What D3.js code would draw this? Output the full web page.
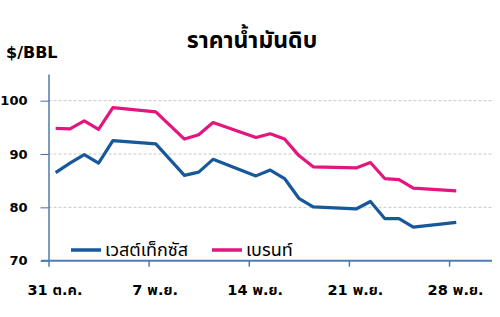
<!DOCTYPE html>
<html>
<head>
<meta charset="utf-8">
<script src="https://cdn.jsdelivr.net/npm/d3@7"></script>
<style>
  body { margin: 0; background: #fff; }
  text { font-family: Tahoma, "Noto Sans Thai", "Liberation Sans", Arial, sans-serif; }
</style>
</head>
<body>
<div id="vis"></div>
<script>
// chart size
var width = 500
var height = 317

// days counted from 31 Oct (trading days only)
var days = [0,1,2,3,4,7,9,10,11,14,15,16,17,18,21,22,23,24,25,28]
var wti = [86.5,88.3,89.9,88.3,92.5,91.9,86.0,86.6,89.0,85.9,87.0,85.4,81.7,80.1,79.7,81.1,77.9,77.9,76.3,77.2]
var brent = [94.8,94.7,96.2,94.6,98.7,97.9,92.8,93.6,95.9,93.1,93.8,92.8,89.7,87.6,87.4,88.4,85.4,85.2,83.6,83.1]

var xTickDays = [0,7,14,21,28]
var xTickLabels = ["31 ต.ค.","7 พ.ย.","14 พ.ย.","21 พ.ย.","28 พ.ย."]
var yTicks = [70,80,90,100]

var seriesNames = ["เวสต์เท็กซัส","เบรนท์"]
var seriesColors = ["#17589a","#e3157f"]

var numFont = '"DejaVu Sans", Tahoma, "Noto Sans Thai", sans-serif'

var svg = d3.select('#vis').append('svg')
  .attr('width', width)
  .attr('height', height)

// scales
var x = d3.scaleLinear().domain([0,31]).range([48.5,492])
var y = d3.scaleLinear().domain([70,105]).range([260.7,74])

// gridlines
svg.selectAll('line.grid')
  .data(yTicks.slice(1))
  .enter()
  .append('line')
  .attr('class','grid')
  .attr('x1', x(0))
  .attr('x2', x(31))
  .attr('y1', d => y(d))
  .attr('y2', d => y(d))
  .attr('stroke','#c8c8c8')
  .attr('stroke-width',1)
  .attr('stroke-dasharray','3,2')

// y axis
var yAxis = d3.axisLeft(y).tickValues(yTicks).tickSize(8).tickPadding(16).tickSizeOuter(0)
var gy = svg.append('g')
  .attr('transform','translate(' + x(0) + ',0)')
  .call(yAxis)
gy.select('.domain').attr('stroke','#1f5c9c').attr('stroke-width',1.2)
gy.selectAll('.tick line').attr('stroke','#3f6fa8')
gy.selectAll('.tick text')
  .attr('x', -21)
  .attr('fill','#000')
  .style('font-size','13px')
  .style('font-weight','bold')
  .style('font-family', numFont)

// x axis
var xAxis = d3.axisBottom(x).tickValues(xTickDays).tickSize(6).tickFormat('').tickSizeOuter(0)
var gx = svg.append('g')
  .attr('transform','translate(0,' + y(70) + ')')
  .call(xAxis)
gx.select('.domain').attr('d','M41,0H492').attr('stroke','#4d7db3').attr('stroke-width',2)
gx.selectAll('.tick line').attr('stroke','#4d7db3').attr('stroke-width',1.5)

svg.selectAll('text.xlab')
  .data(xTickDays)
  .enter()
  .append('text')
  .attr('class','xlab')
  .attr('x', (d,i) => x(d + 0.45))
  .attr('y', 295)
  .attr('text-anchor','middle')
  .style('font-size','14.5px')
  .style('font-weight','bold')
  .style('font-family', numFont)
  .text((d,i) => xTickLabels[i])

// lines
var line = d3.line()
  .x((d,i) => x(days[i] + 0.5))
  .y(d => y(d))

;[wti, brent].forEach(function(s, k){
  svg.append('path')
    .datum(s)
    .attr('d', line)
    .attr('fill','none')
    .attr('stroke', seriesColors[k])
    .attr('stroke-width', 3.2)
    .attr('stroke-linejoin','round')
})

// legend
var legX = [71, 212]
seriesNames.forEach(function(n, k){
  svg.append('line')
    .attr('x1', legX[k]).attr('x2', legX[k] + 30)
    .attr('y1', 250).attr('y2', 250)
    .attr('stroke', seriesColors[k])
    .attr('stroke-width', 3.5)
  svg.append('text')
    .attr('x', legX[k] + 34)
    .attr('y', 256)
    .style('font-size','18px')
    .text(n)
})

// title and unit
svg.append('text')
  .attr('x', 252)
  .attr('y', 48)
  .attr('text-anchor','middle')
  .style('font-size','23px')
  .style('font-weight','bold')
  .text('ราคาน้ำมันดิบ')

svg.append('text')
  .attr('x', 6)
  .attr('y', 58)
  .style('font-size','16px')
  .style('font-weight','bold')
  .style('font-family', numFont)
  .text('$/BBL')
</script>
</body>
</html>
